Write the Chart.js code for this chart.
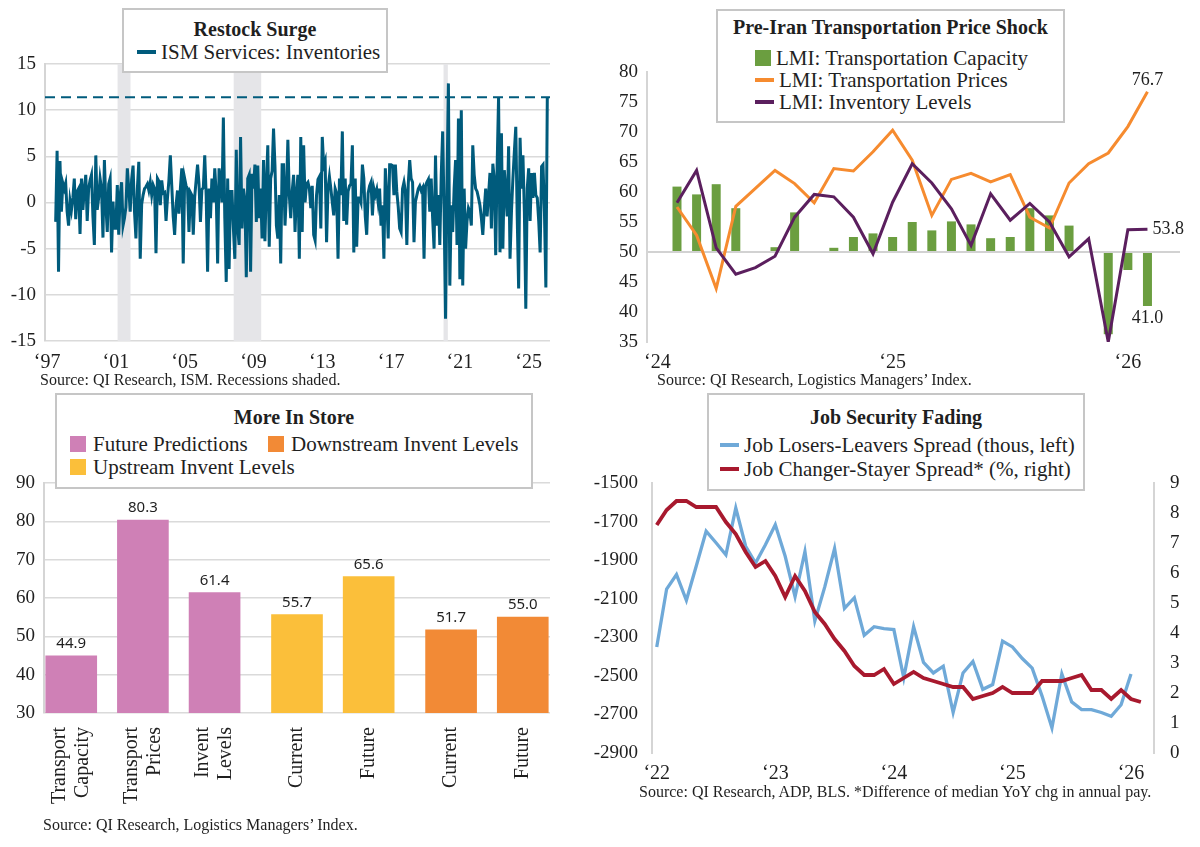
<!DOCTYPE html>
<html lang="en">
<head>
<meta charset="UTF-8">
<title>Restock Surge / Transport Prices / More In Store / Job Security</title>
<script src="https://cdn.jsdelivr.net/npm/chart.js"></script>
<style>
  body { margin: 0; background: #fff; width: 1200px; height: 847px; position: relative; overflow: hidden;
         font-family: "Liberation Serif", "Times New Roman", serif; color: #1f1f1f; }
  canvas { position: absolute; }
  .legend { position: absolute; box-sizing: border-box; background: #fff; border: 2px solid #c6c6c6; z-index: 2; }
  .legend .t { position: absolute; left: 0; right: 0; text-align: center; font-weight: bold; font-size: 20px; line-height: 22px; }
  .legend .i { position: absolute; font-size: 21px; line-height: 22px; white-space: nowrap; }
  .legend .ln { display: inline-block; width: 19px; height: 4px; margin-right: 5px; vertical-align: middle; position: relative; top: -2px; }
  .legend .bx { display: inline-block; width: 16px; height: 16px; margin-right: 7px; vertical-align: middle; position: relative; top: -2px; }
  .source { position: absolute; font-size: 16px; line-height: 18px; white-space: nowrap; }
</style>
</head>
<body>

<canvas id="ismChart" width="570" height="378" style="left:0;top:0"></canvas>
<div class="legend" style="left:122px;top:8px;width:266px;height:65px">
  <div class="t" style="top:8px">Restock Surge</div>
  <div class="i" style="left:13px;top:31px"><span class="ln" style="background:#005b7c"></span>ISM Services: Inventories</div>
</div>
<div class="source" style="left:40px;top:371px">Source: QI Research, ISM. Recessions shaded.</div>

<canvas id="lmiChart" width="600" height="378" style="left:600px;top:0"></canvas>
<div class="legend" style="left:716px;top:9px;width:349px;height:114px">
  <div class="t" style="top:5px">Pre-Iran Transportation Price Shock</div>
  <div class="i" style="left:37px;top:36px"><span class="bx" style="background:#6b9e40;margin-right:5px"></span>LMI: Transportation Capacity</div>
  <div class="i" style="left:37px;top:58px"><span class="ln" style="background:#f68b2f"></span>LMI: Transportation Prices</div>
  <div class="i" style="left:37px;top:80px"><span class="ln" style="background:#5b1f5e"></span>LMI: Inventory Levels</div>
</div>
<div class="source" style="left:657px;top:371px">Source: QI Research, Logistics Managers’ Index.</div>

<canvas id="storeChart" width="580" height="445" style="left:0;top:395px"></canvas>
<div class="legend" style="left:55px;top:393px;width:478px;height:96px">
  <div class="t" style="top:11px">More In Store</div>
  <div class="i" style="left:13px;top:38px"><span class="bx" style="background:#cf80b6"></span>Future Predictions</div>
  <div class="i" style="left:211px;top:38px"><span class="bx" style="background:#f28a36"></span>Downstream Invent Levels</div>
  <div class="i" style="left:13px;top:61px"><span class="bx" style="background:#fbbf3a"></span>Upstream Invent Levels</div>
</div>
<div class="source" style="left:43px;top:816px">Source: QI Research, Logistics Managers’ Index.</div>

<canvas id="jobChart" width="620" height="400" style="left:580px;top:395px"></canvas>
<div class="legend" style="left:707px;top:393px;width:378px;height:98px">
  <div class="t" style="top:11px">Job Security Fading</div>
  <div class="i" style="left:11px;top:39px"><span class="ln" style="background:#6fa9d8"></span>Job Losers-Leavers Spread (thous, left)</div>
  <div class="i" style="left:11px;top:63px"><span class="ln" style="background:#a8192e"></span>Job Changer-Stayer Spread* (%, right)</div>
</div>
<div class="source" style="left:639px;top:783px">Source: QI Research, ADP, BLS. *Difference of median YoY chg in annual pay.</div>

<script>
// ---- Restock Surge: ISM services inventories, monthly from Jul 1997 ----
const ismStartYear = 1997;
const ismStartMonth = 7;
const ismValues = [
  -2.1, 5.6, -7.5, 4.5, -1.0, 2.1,                                   // 1997 H2
  1.5, 2.1, -1.0, -2.5, 0.2, -0.8, 0.5, 2.6, -1.8, 1.2, 1.5, -3.4,   // 1998
  2.6, -0.8, 1.5, 3.0, -2.0, 1.5, 2.4, 3.0, -1.5, -4.6, 5.1, -0.8,   // 1999
  0.5, 2.6, 1.5, -3.8, 4.6, -0.2, -3.2, 2.0, 2.6, -5.4, 0.1, -2.8,   // 2000
  -2.8, 1.9, -3.5, 0.8, 2.2, -2.5, -1.7, -0.5, 3.7, 1.5, -1.0, 2.5,  // 2001
  4.0, -1.0, -3.9, 1.5, 4.4, -6.1, -0.2, 0.8, 1.5, 1.7, 2.0, 1.3,    // 2002
  2.2, 0.8, 1.9, 1.5, -5.5, 2.6, 2.3, -0.3, 2.4, 1.0, 1.1, -2.0,     // 2003
  0.5, 2.4, 5.1, 1.8, -1.5, -3.5, -0.3, 1.3, -1.2, 1.5, 3.7, -6.6,   // 2004
  2.6, 1.8, 1.5, -3.2, 1.1, 0.8, -3.5, 0.6, 2.4, 4.1, 2.0, -2.1,     // 2005
  1.4, 1.6, 5.1, 0.8, -7.5, 1.5, -1.7, 2.6, 0.0, 3.7, 1.0, -6.6,     // 2006
  3.7, 2.6, 0.0, 9.2, -1.7, -8.6, 2.6, -7.2, 1.2, 1.2, -2.8, -6.1,   // 2007
  5.7, -2.8, -4.6, 7.1, -2.8, 1.5, 0.4, -8.1, 2.6, 3.0, -7.5, 3.1,   // 2008
  1.5, 4.1, -2.1, 4.0, -1.7, 1.5, -3.9, 4.6, -4.2, 2.0, 6.2, -4.8,   // 2009
  2.6, 3.4, 8.0, 4.0, -2.5, -3.9, 0.8, -6.6, 4.1, 4.1, -2.5, 1.0,    // 2010
  6.8, 0.8, -1.7, 1.2, 3.0, -3.2, 1.0, 3.0, -6.1, 7.1, -3.2, 6.2,    // 2011
  0.0, 2.0, 2.2, 1.5, -0.6, 1.8, -3.5, -4.1, 0.8, 2.5, 2.8, -2.8,    // 2012
  7.1, 4.0, 4.5, -4.3, 1.5, 2.8, 1.5, 0.0, -1.4, 1.5, 1.0, -6.1,     // 2013
  2.6, 0.8, 7.7, -2.0, 2.6, -2.4, 1.2, 1.8, 2.0, 6.2, -5.4, 2.6,     // 2014
  -4.8, 0.5, 0.5, 0.0, 4.1, 2.6, -1.5, -3.5, 1.0, 1.8, 2.2, -1.4,    // 2015
  1.5, 0.8, 1.4, 0.0, 1.5, -2.5, -0.3, -6.1, 3.7, 0.5, -3.9, 4.1,    // 2016
  4.1, 4.0, 0.8, 4.1, 1.2, -0.5, -2.8, -3.2, 1.5, 2.2, 1.2, -4.6,    // 2017
  2.0, 4.6, 2.6, 2.2, -4.3, 0.1, 0.8, 1.5, 1.8, 1.3, 1.6, -6.1,      // 2018
  1.8, 2.2, 2.5, -1.0, 2.6, -1.7, -5.0, 5.1, -2.5, 0.8, -4.6, 3.0,   // 2019
  7.7, -1.0, -12.6, 2.0, 12.9, -9.0, -0.3, -3.2, 1.5, 4.6, -4.6, 9.1, // 2020
  -8.3, 10.0, -9.0, 1.5, -5.0, -2.0, -0.6, -1.0, -2.5, 6.2, 3.0, 1.5, // 2021
  1.2, 0.5, -0.3, -1.7, -3.5, -0.8, 1.5, -1.5, 0.8, 3.2, -2.8, 4.2,  // 2022
  2.5, -5.7, 4.0, 11.4, -5.4, 7.5, -5.0, 3.5, 1.2, -1.5, 6.1, -6.1,  // 2023
  -1.0, 2.6, 5.5, 8.2, -1.5, -9.3, 7.0, 1.5, 5.1, -1.0, -11.5, 1.5,  // 2024
  3.7, -2.0, 3.2, 0.5, 3.2, 0.8, 0.5, -2.0, -5.4, 3.9, 4.1, -1.0,    // 2025
  -9.2, 11.4                                                          // 2026
];
const ismTickYears = [1997, 2001, 2005, 2009, 2013, 2017, 2021, 2025];
const recessions = [[2001.1, 2001.85], [2007.85, 2009.45], [2020.05, 2020.3]];

// ---- LMI monthly, Feb 2024 .. Feb 2026 ----
const lmiCapacity = [60.9, 59.6, 61.3, 57.3, 50.0, 50.8, 56.6, 50.0, 50.7, 52.5, 53.1, 52.5, 55.0,
                     53.6, 55.1, 54.6, 52.3, 52.5, 57.3, 56.1, 54.4, 50.0, 36.3, 47.0, 41.0];
const lmiPrices = [57.5, 52.8, 43.9, 57.6, 60.6, 63.6, 61.4, 58.2, 63.9, 63.5, 66.7, 70.3, 65.3,
                   56.1, 62.1, 63.1, 61.7, 62.9, 55.8, 54.0, 61.5, 64.7, 66.5, 70.9, 76.7];
const lmiInventory = [58.2, 63.6, 50.7, 46.3, 47.4, 49.3, 55.8, 59.6, 59.2, 55.8, 49.7, 58.3, 64.7,
                      61.5, 57.2, 51.1, 59.7, 55.3, 58.1, 55.0, 49.2, 52.2, 35.0, 53.7, 53.8];
const lmiFirstMonth = 1;            // months after Jan 2024
const lmiTickYears = [2024, 2025, 2026];

// ---- More In Store ----
const storeLabels = [['Transport', 'Capacity'], ['Transport', 'Prices'], ['Invent', 'Levels'],
                     'Current', 'Future', 'Current', 'Future'];
const storeValues = [44.9, 80.3, 61.4, 55.7, 65.6, 51.7, 55.0];
const storeGroup = [0, 0, 0, 1, 1, 2, 2];   // Future Predictions, Upstream, Downstream

// ---- Job Security Fading, monthly from Jan 2022 ----
const losersLeavers = [-2350, -2050, -1975, -2108, -1930, -1750, -1810, -1872, -1630, -1828, -1915, -1820,
                       -1716, -1880, -2090, -1855, -2215, -2040, -1840, -2150, -2095, -2290, -2245, -2255,
                       -2260, -2510, -2245, -2430, -2485, -2450, -2690, -2485, -2425, -2570, -2545, -2320,
                       -2350, -2410, -2460, -2605, -2770, -2490, -2635, -2675, -2675, -2690, -2710, -2650,
                       -2490];
const changerStayer = [7.6, 8.1, 8.4, 8.4, 8.2, 8.2, 8.2, 7.7, 7.3, 6.7, 6.2, 6.4,
                       5.9, 5.2, 5.9, 5.4, 4.7, 4.3, 3.8, 3.4, 2.9, 2.6, 2.6, 2.8,
                       2.3, 2.5, 2.7, 2.5, 2.4, 2.3, 2.2, 2.2, 1.8, 1.9, 2.0, 2.2,
                       2.0, 2.0, 2.0, 2.4, 2.4, 2.4, 2.5, 2.6, 2.1, 2.1, 1.8, 2.1,
                       1.8, 1.7];
const jobTickYears = [2022, 2023, 2024, 2025, 2026];

// ---------------------------------------------------------------
Chart.defaults.font.family = "'Liberation Serif', 'Times New Roman', serif";
Chart.defaults.font.size = 19;
Chart.defaults.color = '#1f1f1f';
Chart.defaults.animation = false;
Chart.defaults.responsive = false;
Chart.defaults.plugins.legend.display = false;
Chart.defaults.plugins.tooltip.enabled = false;
Chart.defaults.elements.point.radius = 0;
Chart.defaults.elements.line.tension = 0;

const fixWidth = w => scale => { scale.width = w; };
const fixHeight = h => scale => { scale.height = h; };
const yearLabel = y => '\u2018' + String(y).slice(-2);
const setTicks = values => scale => { scale.ticks = values.map(v => ({ value: v })); };
const plain = v => String(v);
const last = a => a[a.length - 1];

// chart 1
const ismPoints = ismValues.map((v, i) => ({ x: ismStartYear + (ismStartMonth - 1 + i) / 12, y: v }));
const ismMin = 1996.88, ismMax = 2026.24;

const shadePlugin = {
  id: 'shade',
  beforeDatasetsDraw(chart) {
    const { ctx, chartArea, scales: { x } } = chart;
    ctx.save();
    ctx.fillStyle = '#e5e5e8';
    recessions.forEach(([a, b]) => {
      const x0 = x.getPixelForValue(a), x1 = x.getPixelForValue(b);
      ctx.fillRect(x0, chartArea.top, x1 - x0, chartArea.bottom - chartArea.top);
    });
    ctx.restore();
  }
};

new Chart(document.getElementById('ismChart'), {
  type: 'line',
  data: {
    datasets: [
      { data: ismPoints, borderColor: '#005b7c', borderWidth: 3 },
      { data: [{ x: ismMin, y: last(ismValues) }, { x: ismMax, y: last(ismValues) }],
        borderColor: '#005b7c', borderWidth: 2, borderDash: [10, 6] }
    ]
  },
  options: {
    layout: { padding: { top: 64, right: 20, left: 0, bottom: 0 } },
    scales: {
      x: { type: 'linear', min: ismMin, max: ismMax, afterFit: fixHeight(37),
           afterBuildTicks: setTicks(ismTickYears),
           ticks: { callback: yearLabel, padding: 2, maxRotation: 0, autoSkip: false, font: { size: 20 } },
           grid: { display: false }, border: { display: false } },
      y: { min: -15, max: 15, afterFit: fixWidth(45),
           ticks: { stepSize: 5, padding: 9, callback: plain },
           grid: { color: '#dadada', lineWidth: 1.5, drawTicks: false },
           border: { color: '#d5d5d5', width: 2 } }
    }
  },
  plugins: [shadePlugin]
});

// chart 2
const lmiPts = arr => arr.map((v, i) => ({ x: lmiFirstMonth + i, y: v }));
const lmiLabelPlugin = {
  id: 'lmiLabels',
  afterDatasetsDraw(chart) {
    const { ctx } = chart;
    const inv = last(chart.getDatasetMeta(0).data);
    const price = last(chart.getDatasetMeta(1).data);
    const cap = last(chart.getDatasetMeta(2).data);
    ctx.save();
    ctx.font = "18px 'Liberation Serif', serif";
    ctx.fillStyle = '#1f1f1f';
    ctx.textBaseline = 'middle';
    ctx.textAlign = 'center';
    ctx.fillText(last(lmiPrices).toFixed(1), price.x, price.y - 12);
    ctx.fillText(last(lmiCapacity).toFixed(1), cap.x, cap.y + 12);
    ctx.textAlign = 'left';
    ctx.fillText(last(lmiInventory).toFixed(1), inv.x + 5, inv.y);
    ctx.restore();
  }
};

new Chart(document.getElementById('lmiChart'), {
  type: 'bar',
  data: {
    datasets: [
      { type: 'line', data: lmiPts(lmiInventory), borderColor: '#5b1f5e', borderWidth: 3, order: 1 },
      { type: 'line', data: lmiPts(lmiPrices), borderColor: '#f68b2f', borderWidth: 3, order: 2 },
      { type: 'bar', data: lmiPts(lmiCapacity), base: 50, backgroundColor: '#6b9e40', barThickness: 9,
        inflateAmount: 0, order: 3 }
    ]
  },
  options: {
    layout: { padding: { top: 72, right: 20, left: 0, bottom: 0 } },
    scales: {
      x: { type: 'linear', offset: false, min: -0.53, max: 26.66, afterFit: fixHeight(36),
           afterBuildTicks: setTicks(lmiTickYears.map(y => (y - 2024) * 12)),
           ticks: { callback: (v, i) => yearLabel(lmiTickYears[i]), padding: 1, maxRotation: 0, autoSkip: false, font: { size: 20 } },
           grid: { display: false }, border: { display: false } },
      y: { min: 35, max: 80, afterFit: fixWidth(47),
           ticks: { stepSize: 5, padding: 9, callback: plain },
           grid: { color: c => c.tick && c.tick.value === 50 ? '#d2d2d2' : 'rgba(0,0,0,0)', lineWidth: 2, drawTicks: false },
           border: { color: '#d5d5d5', width: 2 } }
    }
  },
  plugins: [lmiLabelPlugin]
});

// chart 3
const storeColors = ['#cf80b6', '#fbbf3a', '#f28a36'];
const groupGap = 0.15;
const twoLineShift = 0.16;   // centre two-line rotated labels on their bar
const storeX = storeGroup.map((g, i) => i + g * groupGap);
const storeTickX = storeX.map((x, i) => Array.isArray(storeLabels[i]) ? x - twoLineShift : x);
const storeLabelPlugin = {
  id: 'storeLabels',
  afterDatasetsDraw(chart) {
    const { ctx } = chart;
    ctx.save();
    ctx.font = "15px 'Noto Sans', sans-serif";
    ctx.fillStyle = '#1f1f1f';
    ctx.textAlign = 'center';
    ctx.textBaseline = 'middle';
    chart.getDatasetMeta(0).data.forEach((bar, i) => {
      ctx.fillText(storeValues[i].toFixed(1), bar.x, bar.y - 12);
    });
    ctx.restore();
  }
};

new Chart(document.getElementById('storeChart'), {
  type: 'bar',
  data: {
    datasets: [{
      data: storeValues.map((v, i) => ({ x: storeX[i], y: v })),
      backgroundColor: storeGroup.map(g => storeColors[g]),
      barThickness: 51
    }]
  },
  options: {
    layout: { padding: { top: 88, right: 30, left: 0, bottom: 0 } },
    scales: {
      x: { type: 'linear', offset: false, min: -0.38, max: 6.68, afterFit: fixHeight(127),
           afterBuildTicks: setTicks(storeTickX),
           ticks: { callback: (v, i) => storeLabels[i], padding: 6, minRotation: 90, maxRotation: 90,
                    autoSkip: false, font: { size: 20, lineHeight: 1.15 } },
           grid: { display: false }, border: { display: false } },
      y: { min: 30, max: 90, afterFit: fixWidth(44),
           ticks: { stepSize: 10, padding: 9, callback: plain },
           grid: { color: '#dadada', lineWidth: 1.5, drawTicks: false },
           border: { color: '#d5d5d5', width: 2 } }
    }
  },
  plugins: [storeLabelPlugin]
});

// chart 4
const jobPts = arr => arr.map((v, i) => ({ x: i, y: v }));
new Chart(document.getElementById('jobChart'), {
  type: 'line',
  data: {
    datasets: [
      { data: jobPts(changerStayer), yAxisID: 'y1', borderColor: '#a8192e', borderWidth: 3.8, order: 1 },
      { data: jobPts(losersLeavers), yAxisID: 'y', borderColor: '#6fa9d8', borderWidth: 3.3, order: 2 }
    ]
  },
  options: {
    layout: { padding: { top: 88, right: 0, left: 0, bottom: 0 } },
    scales: {
      x: { type: 'linear', min: -0.48, max: 50.33, afterFit: fixHeight(42),
           afterBuildTicks: setTicks(jobTickYears.map(y => (y - 2022) * 12)),
           ticks: { callback: (v, i) => yearLabel(jobTickYears[i]), padding: 1, maxRotation: 0, autoSkip: false, font: { size: 20 } },
           grid: { display: false }, border: { display: false } },
      y: { position: 'left', min: -2900, max: -1500, afterFit: fixWidth(72),
           ticks: { stepSize: 200, padding: 6, callback: plain },
           grid: { display: false }, border: { color: '#d5d5d5', width: 2 } },
      y1: { position: 'right', min: 0, max: 9, afterFit: fixWidth(46),
            ticks: { stepSize: 1, padding: 8, callback: plain },
            grid: { display: false }, border: { color: '#d5d5d5', width: 2 } }
    }
  }
});
</script>
</body>
</html>
